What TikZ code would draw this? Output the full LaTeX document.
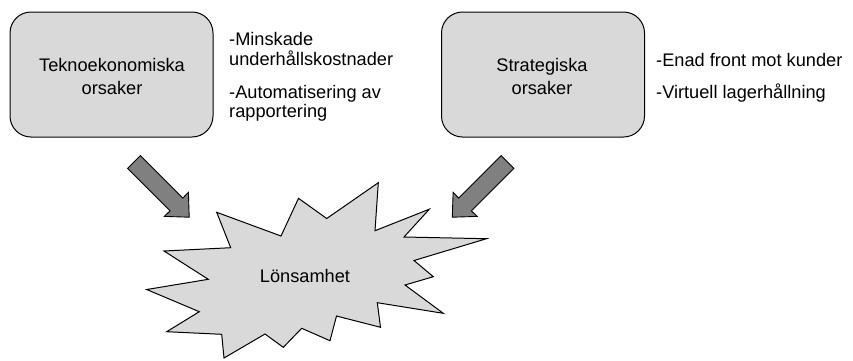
\documentclass[tikz,border=0pt]{standalone}
\usepackage{fontspec}
\setmainfont{Liberation Sans}
\begin{document}
\begin{tikzpicture}[x=1pt,y=-1pt,
  causebox/.style={draw=black,line width=1pt,fill=boxgray,rounded corners=21pt,
    minimum width=203pt,minimum height=125pt,inner sep=0pt},
  txt/.style={font=\fontsize{18.2}{21}\selectfont,inner sep=0pt,text=black},
  blockarrow/.style={draw=black,line width=0.9pt,fill=arrowgray,line join=miter},
  burst/.style={draw=black,line width=1pt,fill=boxgray,line join=miter}]
\definecolor{boxgray}{HTML}{D9D9D9}
\definecolor{arrowgray}{HTML}{808080}
\useasboundingbox (0,0) rectangle (853,360);

% the two cause boxes
\node[causebox] (tek) at (111.5,74.5) {};
\node[causebox] (str) at (543,74.5) {};
\node[txt,anchor=base] (tek1) at (112,71.7) {Teknoekonomiska};
\node[txt,anchor=base] (tek2) at (112,94) {orsaker};
\node[txt,anchor=base] (str1) at (542,71.7) {Strategiska};
\node[txt,anchor=base] (str2) at (542,94) {orsaker};

% bullet texts beside the boxes
\node[txt,anchor=base west] (a1) at (229,45.7) {-Minskade};
\node[txt,anchor=base west] (a2) at (229,65.5) {underhållskostnader};
\node[txt,anchor=base west] (a3) at (229,98.3) {-Automatisering av};
\node[txt,anchor=base west] (a4) at (229,117.8) {rapportering};
\node[txt,anchor=base west] (b1) at (656,66.7) {-Enad front mot kunder};
\node[txt,anchor=base west] (b2) at (656,98.3) {-Virtuell lagerhållning};

% starburst
\draw[burst] (216.7,212.3) -- (281,236) -- (298.5,198.3) -- (326.7,218.5)
  -- (378.3,182.7) -- (375,230.7) -- (429.3,209.2) -- (404,237)
  -- (486.5,238.7) -- (414,260.5) -- (433.3,276.7) -- (405,285)
  -- (443.3,313.3) -- (377.3,302.7) -- (380.5,327.3) -- (336.5,316)
  -- (330,340.7) -- (301.7,328.3) -- (283.3,347.3) -- (265,334)
  -- (224,358) -- (221.7,334.3) -- (166.7,331.7) -- (199.3,311.7)
  -- (146.7,289.5) -- (208.3,279.3) -- (164,251) -- (230.7,247.7) -- cycle;
\node[txt,anchor=base] (lon) at (305,282.7) {Lönsamhet};

% block arrows pointing into the burst
\draw[blockarrow] (140.4,155.6) -- (182.8,198.1) -- (188.4,192.4) -- (189.2,217.2)
  -- (164.4,216.4) -- (170.1,210.8) -- (127.6,168.4) -- cycle;
\draw[blockarrow] (501.1,155.6) -- (458.7,198.1) -- (453.1,192.4) -- (452.3,217.2)
  -- (477.1,216.4) -- (471.4,210.8) -- (513.9,168.4) -- cycle;
\end{tikzpicture}
\end{document}
